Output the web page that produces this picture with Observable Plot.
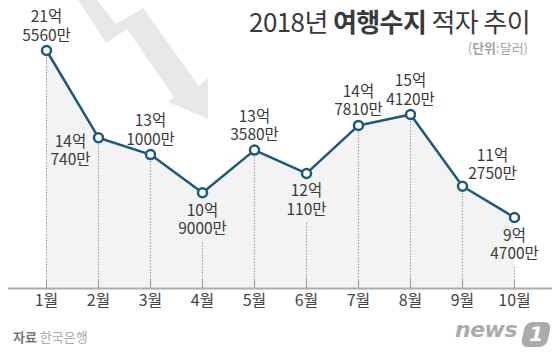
<!DOCTYPE html>
<html>
<head>
<meta charset="utf-8">
<script src="https://cdn.jsdelivr.net/npm/d3@7"></script>
<script src="https://cdn.jsdelivr.net/npm/@observablehq/plot@0.6"></script>
<style>
  body { margin: 0; background: #fff; font-family: "Noto Sans CJK KR", "Noto Sans", sans-serif; }
  #wrap { position: relative; width: 560px; height: 358px; overflow: hidden; background: #fff; }
  #arrow, #chart { position: absolute; left: 0; top: 0; }
  .title { position: absolute; right: 30px; top: 8px; font-size: 26px; line-height: 26px; color: #3a3a3a; letter-spacing: -0.6px; white-space: nowrap; }
  .title b { font-weight: 700; }
  .unit { position: absolute; right: 32px; top: 41px; font-size: 13px; line-height: 13px; color: #a3a3a3; white-space: nowrap; }
  .src { position: absolute; left: 13px; top: 330px; font-size: 13px; line-height: 13px; color: #aaa; white-space: nowrap; }
  .src b { color: #7a7a7a; font-weight: 700; }
  .logo { position: absolute; left: 455px; top: 319px; font-family: "DejaVu Sans", sans-serif; font-weight: 700; font-style: italic; font-size: 22px; line-height: 22px; color: #ababab; letter-spacing: -0.5px; }
  .badge { position: absolute; left: 523px; top: 322px; width: 26px; height: 25px; background: #ababab; border-radius: 7px; transform: skewX(-12deg); color: #fff; font-family: "DejaVu Sans", sans-serif; font-weight: 700; font-size: 20px; line-height: 25px; text-align: center; }
</style>
</head>
<body>
<div id="wrap">
  <svg id="arrow" width="560" height="358">
    <polygon points="78,0 106,43 127,29 174,97 168,102 208,119 208,78 199,86 143,8 116,24 97,0" fill="#e7e8ea"></polygon>
  </svg>
  <div id="chart"></div>
  <div class="title">2018년 <b>여행수지</b> 적자 추이</div>
  <div class="unit">(<b>단위</b>:달러)</div>
  <div class="src"><b>자료</b> 한국은행</div>
  <div class="logo">news</div>
  <div class="badge">1</div>
</div>
<script>
const months = ["1월", "2월", "3월", "4월", "5월", "6월", "7월", "8월", "9월", "10월"];
const eok = [21, 14, 13, 10, 13, 12, 14, 15, 11, 9];
const man = [5560, 740, 1000, 9000, 3580, 110, 7810, 4120, 2750, 4700];
// label placement relative to each point
const labelSide = ["top", "left", "top", "bottom", "top", "bottom", "top", "top", "right", "bottom"];

const data = months.map((m, i) => ({
  month: m,
  value: eok[i] + man[i] / 10000,
  label: `${eok[i]}억\n${man[i]}만`,
  side: labelSide[i]
}));

const lineColor = "#1d5a7a";
const textStyle = { fontSize: 15.5, fill: "#3a3a3a", lineHeight: 1.18 };

const chart = Plot.plot({
  width: 560,
  height: 358,
  marginLeft: 46,
  marginRight: 46,
  marginTop: 0,
  marginBottom: 70,
  style: { background: "transparent", fontFamily: "'Noto Sans CJK KR', sans-serif", overflow: "visible" },
  x: { type: "point", domain: months, padding: 0, axis: null },
  y: { type: "linear", domain: [0, 9.47, 15.412, 21.556], range: [288, 217, 114, 50], axis: null },
  marks: [
    Plot.areaY(data, { x: "month", y: "value", fill: "#f3f3f3" }),
    Plot.ruleX(data.filter(d => d.side !== "bottom"), { x: "month", y1: "value", y2: 0, stroke: "#999", strokeWidth: 1, strokeDasharray: "1.5,1.5", insetTop: 7 }),
    Plot.ruleX(data.filter(d => d.side === "bottom"), { x: "month", y1: "value", y2: 0, stroke: "#999", strokeWidth: 1, strokeDasharray: "1.5,1.5", insetTop: 50 }),
    Plot.ruleX(data, { x: "month", y1: 0, y2: 0, insetTop: -9, stroke: "#999", strokeWidth: 1 }),
    Plot.ruleY([0], { stroke: "#ababab", strokeWidth: 2, insetLeft: -38, insetRight: -38 }),
    Plot.text(data, { x: "month", text: "month", frameAnchor: "bottom", dy: 17, fontSize: 16, fill: "#444" }),
    Plot.line(data, { x: "month", y: "value", stroke: lineColor, strokeWidth: 2.5 }),
    Plot.dot(data, { x: "month", y: "value", r: 4.5, fill: "white", stroke: lineColor, strokeWidth: 2.5 }),
    Plot.text(data.filter(d => d.side === "top"), { x: "month", y: "value", text: "label", lineAnchor: "bottom", dy: -10, ...textStyle }),
    Plot.text(data.filter(d => d.side === "bottom"), { x: "month", y: "value", text: "label", lineAnchor: "top", dy: 10, ...textStyle }),
    Plot.text(data.filter(d => d.side === "left"), { x: "month", y: "value", text: "label", lineAnchor: "top", dx: -28, dy: -4, ...textStyle }),
    Plot.text(data.filter(d => d.side === "right"), { x: "month", y: "value", text: "label", lineAnchor: "bottom", dx: 30, dy: -7, ...textStyle })
  ]
});
document.getElementById("chart").appendChild(chart);
</script>
</body>
</html>
